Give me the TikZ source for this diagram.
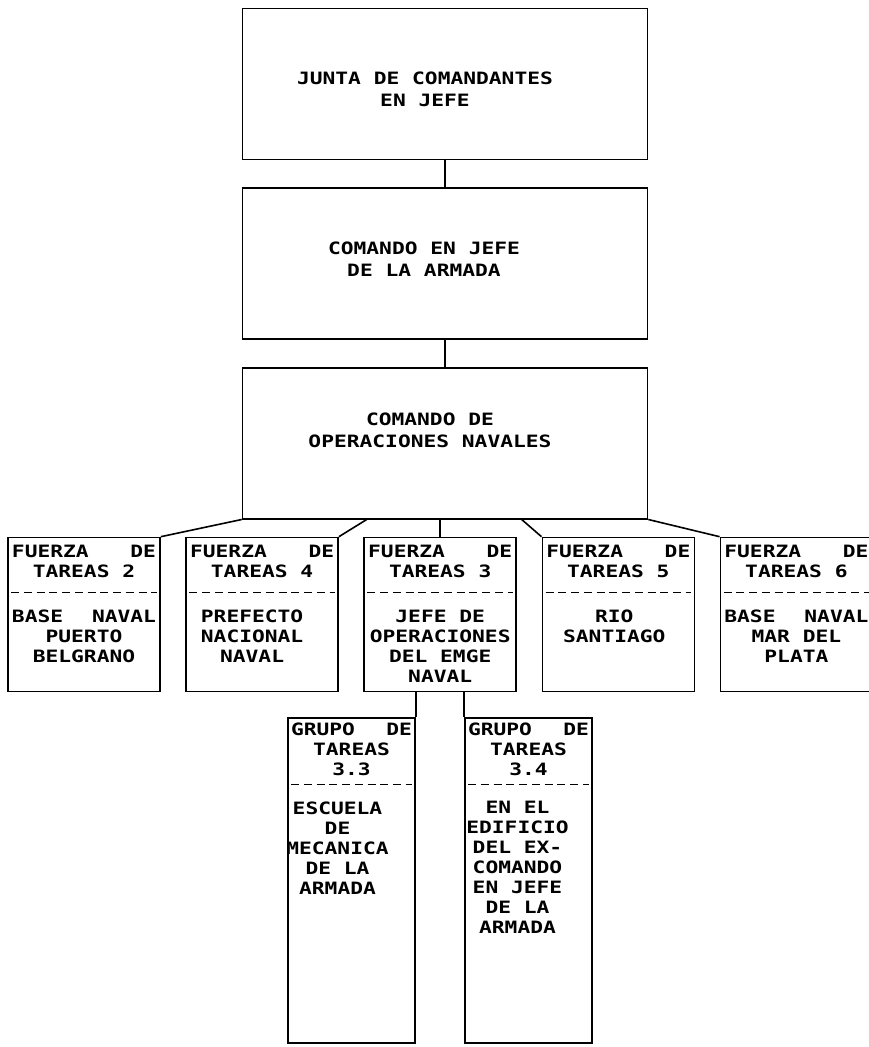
\documentclass[tikz,border=0pt]{standalone}
\usepackage{fontspec}
\newfontfamily\typfont[FakeStretch=1.25]{DejaVu Sans Mono}
\usetikzlibrary{positioning,calc}
\tikzset{
  org-box/.style={draw,line width=1.6pt,minimum width=405pt,
    minimum height=151pt,inner sep=0pt},
  ft-box/.style={draw,line width=1.6pt,minimum width=152pt,
    minimum height=154pt,inner sep=0pt},
  gt-box/.style={draw,line width=1.6pt,minimum width=127pt,
    minimum height=325pt,inner sep=0pt},
  org-text/.style={font=\typfont\bfseries\fontsize{17}{21.5}\selectfont,
    align=center,inner sep=0pt,anchor=north,
    execute at begin node={\spaceskip=12.79pt\relax}},
  cell-text/.style={font=\typfont\bfseries\fontsize{17}{20}\selectfont,
    align=center,inner sep=0pt,anchor=north,text width=#1,
    execute at begin node={\spaceskip=12.79pt\relax}},
  cell-text/.default=144pt,
  link/.style={line width=1.6pt},
  sep-line/.style={line width=1.4pt,dash pattern=on 8pt off 4.75pt},
}

\begin{document}
\begin{tikzpicture}[x=1pt,y=-1pt,node distance=27pt and 24.5pt]
  \useasboundingbox (0,0) rectangle (869,1047);
  % mandos superiores
  \node[org-box] (junta) at (445,84) {};
  \node[org-box,below=of junta] (armada) {};
  \node[org-box,below=of armada] (ops) {};
  \node[org-text] (junta-txt) at (425,72) {JUNTA DE COMANDANTES\\EN JEFE};
  \node[org-text] (armada-txt) at (424,242) {COMANDO EN JEFE\\DE LA ARMADA};
  \node[org-text] (ops-txt) at (430,413) {COMANDO DE\\OPERACIONES NAVALES};
  % fuerzas de tareas
  \node[ft-box] (ft2) at (84,614.5) {};
  \node[ft-box,right=of ft2] (ft4) {};
  \node[ft-box,right=of ft4] (ft3) {};
  \node[ft-box,right=of ft3] (ft5) {};
  \node[ft-box,right=of ft5] (ft6) {};
  \foreach \f/\n in {ft2/2,ft4/4,ft3/3,ft5/5,ft6/6}{
    \node[cell-text] (\f-top) at ([yshift=-8pt]\f.north) {FUERZA\hfill DE\\TAREAS \n};
    \draw[sep-line] ([xshift=4pt,yshift=-56pt]\f.north west)
      -- ([xshift=-4pt,yshift=-56pt]\f.north east);
  }
  \node[cell-text] (ft2-bot) at ([yshift=-73pt]ft2.north) {BASE\hfill NAVAL\\PUERTO\\BELGRANO};
  \node[cell-text] (ft4-bot) at ([xshift=-10pt,yshift=-73pt]ft4.north) {PREFECTO\\NACIONAL\\NAVAL};
  \node[cell-text] (ft3-bot) at ([yshift=-73pt]ft3.north) {JEFE DE\\OPERACIONES\\DEL EMGE\\NAVAL};
  \node[cell-text] (ft5-bot) at ([xshift=-4pt,yshift=-73pt]ft5.north) {RIO\\SANTIAGO};
  \node[cell-text] (ft6-bot) at ([yshift=-73pt]ft6.north) {BASE\hfill NAVAL\\MAR DEL\\PLATA};
  % grupos de tareas
  \node[gt-box] (gt33) at (351.5,880.5) {};
  \node[gt-box] (gt34) at (528.5,880.5) {};
  \foreach \g/\n in {gt33/3.3,gt34/3.4}{
    \node[cell-text=121pt] (\g-top) at ([yshift=-5pt]\g.north) {GRUPO\hfill DE\\TAREAS\\\n};
    \draw[sep-line] ([xshift=4pt,yshift=-67pt]\g.north west)
      -- ([xshift=-4pt,yshift=-67pt]\g.north east);
  }
  \node[cell-text=121pt] (gt33-bot) at ([xshift=-14pt,yshift=-84pt]gt33.north)
    {ESCUELA\\DE\\MECANICA\\DE LA\\ARMADA};
  \node[cell-text=121pt] (gt34-bot) at ([xshift=-11pt,yshift=-84pt]gt34.north)
    {EN EL\\EDIFICIO\\DEL EX-\\COMANDO\\EN JEFE\\DE LA\\ARMADA};
  % conexiones
  \draw[link] (junta) -- (armada);
  \draw[link] (armada) -- (ops);
  \draw[link] (ops.south west) -- (ft2.north east);
  \draw[link] ($(ops.south west)+(125,0)$) -- (ft4.north east);
  \draw[link] (ft3.north |- ops.south) -- (ft3.north);
  \draw[link] ($(ops.south west)+(280,0)$) -- (ft5.north west);
  \draw[link] (ops.south east) -- (ft6.north west);
  \draw[link] (gt33.north east) -- (gt33.north east |- ft3.south);
  \draw[link] (gt34.north west) -- (gt34.north west |- ft3.south);
\end{tikzpicture}
\end{document}
